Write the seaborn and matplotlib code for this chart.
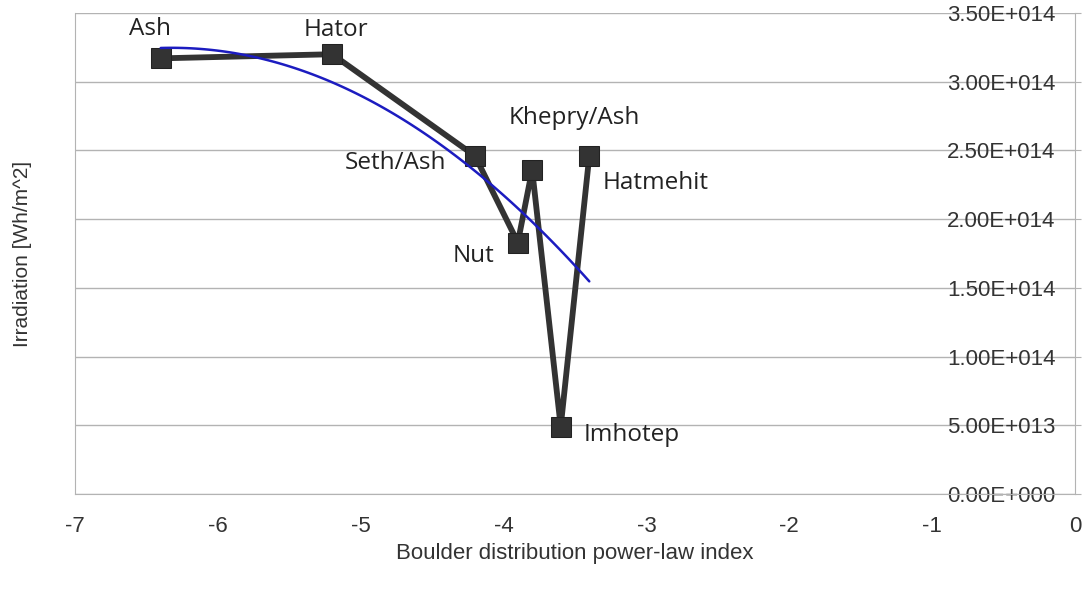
import matplotlib
matplotlib.use('Agg')
import matplotlib.pyplot as plt
import matplotlib.ticker as mtick
import numpy as np
import pandas as pd
import seaborn as sns

# boulder fields: power-law index vs irradiation
regions = ['Ash', 'Hator', 'Seth/Ash', 'Nut', 'Khepry/Ash', 'Imhotep', 'Hatmehit']
power_index = [-6.4, -5.2, -4.2, -3.9, -3.8, -3.6, -3.4]
irradiation = [3.17e14, 3.20e14, 2.46e14, 1.83e14, 2.36e14, 0.49e14, 2.46e14]

df = pd.DataFrame({'region': regions, 'index': power_index, 'irr': irradiation})

# label offsets (pixels) relative to each point
label_off = {
    'Ash': (-11, 29, 'center'),
    'Hator': (4, 24, 'center'),
    'Seth/Ash': (-29, -7, 'right'),
    'Nut': (-23, -13, 'right'),
    'Khepry/Ash': (42, 52, 'center'),
    'Imhotep': (23, -8, 'left'),
    'Hatmehit': (13, -27, 'left'),
}

sns.set_style('white')
plt.rcParams['font.family'] = ['Liberation Sans', 'DejaVu Sans']
plt.rcParams['axes.unicode_minus'] = False

fig = plt.figure(figsize=(10.9, 5.89), dpi=100)
ax = fig.add_axes([75/1090, 1-494/589, 1000/1090, 481/589])

grid_c = '#b3b3b3'
sns.lineplot(data=df, x='index', y='irr', sort=False, ax=ax, color='#333333',
             linewidth=4.2, marker='s', markersize=15, markeredgecolor='#222222',
             markerfacecolor='#333333', zorder=3)
sns.regplot(data=df, x='index', y='irr', order=2, ci=None, scatter=False, ax=ax,
            truncate=True, line_kws={'color': '#1c1cc0', 'linewidth': 1.8, 'zorder': 4})

for _, r in df.iterrows():
    dx, dy, ha = label_off[r['region']]
    ax.annotate(r['region'], (r['index'], r['irr']), xytext=(dx, dy),
                textcoords='offset pixels', ha=ha, va='center', fontsize=17.5,
                family=['Open Sans', 'DejaVu Sans'], color='#222222', zorder=5)

ax.set_xlim(-7, 0)
ax.set_ylim(0, 3.5e14)
ax.set_xticks(range(-7, 1))
ax.set_yticks(np.arange(0, 3.51e14, 0.5e14))

def sci_fmt(v, pos):
    if v == 0:
        return '0.00E+000'
    e = int(np.floor(np.log10(abs(v))))
    m = v / 10**e
    return f'{m:.2f}E+{e:03d}'

ax.yaxis.set_major_formatter(mtick.FuncFormatter(sci_fmt))
ax.yaxis.set_ticks_position('right')
ax.tick_params(axis='y', length=4, color=grid_c, direction='out', pad=-18,
               labelsize=16, labelcolor='#333333')
for lab in ax.get_yticklabels():
    lab.set_horizontalalignment('right')
ax.tick_params(axis='x', length=8, color=grid_c, direction='out', pad=8,
               labelsize=16, labelcolor='#333333')

ax.grid(axis='y', color=grid_c, linewidth=1)
ax.grid(axis='x', visible=False)
for s in ['left', 'right', 'bottom']:
    ax.spines[s].set_color(grid_c)
ax.spines['top'].set_visible(False)

ax.set_xlabel('Boulder distribution power-law index', fontsize=16, color='#333333', labelpad=4)
ax.set_ylabel('Irradiation [Wh/m^2]', fontsize=15, color='#333333', labelpad=0)
ax.yaxis.set_label_coords(-43/1000, 0.5)

fig.savefig('out.png', dpi=100)
